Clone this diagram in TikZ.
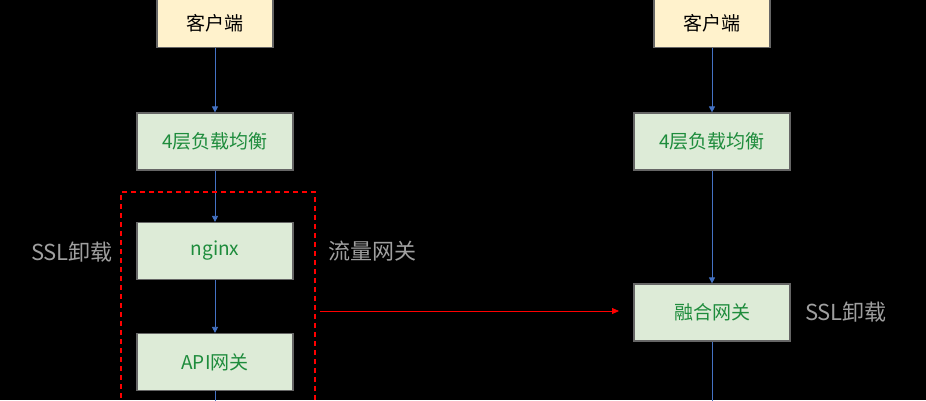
\documentclass[tikz,border=0pt]{standalone}
\usepackage{fontspec}
\setmainfont{Noto Sans CJK SC}
\usetikzlibrary{arrows.meta}
\definecolor{tgreen}{HTML}{1E8C3C}
\definecolor{gfill}{HTML}{DDEBD7}
\definecolor{yfill}{HTML}{FFF2CC}
\definecolor{ablue}{HTML}{4472C4}
\begin{document}
\begin{tikzpicture}[x=1pt,y=-1pt,
  gbox/.style={draw=gray!80!black,line width=1.2pt,fill=gfill,text=tgreen,minimum width=156pt,minimum height=57pt,font=\fontsize{19}{22}\selectfont},
  ybox/.style={draw=gray!80!black,line width=1.2pt,fill=yfill,text=black,minimum width=116pt,minimum height=49pt,font=\fontsize{19}{22}\selectfont},
  flow/.style={draw=ablue,line width=0.8pt,-{Triangle[length=6pt,width=6pt]}},
  lbl/.style={text=gray!75,font=\fontsize{22}{25}\selectfont}]
\fill[black] (0,0) rectangle (926,400);
\useasboundingbox (0,0) rectangle (926,400);
\clip (0,0) rectangle (926,400);
\node[ybox] (c1) at (215,23) {客户端};
\node[gbox] (l1) at (215,141.5) {4层负载均衡};
\node[gbox] (n1) at (215,251) {nginx};
\node[gbox] (a1) at (215,362) {API网关};
\coordinate (e1) at (215,405);
\node[ybox] (c2) at (712,23) {客户端};
\node[gbox] (l2) at (712,141.5) {4层负载均衡};
\node[gbox] (f2) at (712,312.5) {融合网关};
\coordinate (e2) at (712,405);
\coordinate (r1) at (320,311);
\coordinate (r2) at (619,311);
\draw[flow] (c1) -- (l1);
\draw[flow] (l1) -- (n1);
\draw[flow] (n1) -- (a1);
\draw[draw=ablue,line width=0.8pt] (a1) -- (e1);
\draw[flow] (c2) -- (l2);
\draw[flow] (l2) -- (f2);
\draw[draw=ablue,line width=0.8pt] (f2) -- (e2);
\node[draw=red,line width=1.3pt,dash pattern=on 5pt off 4pt,minimum width=194pt,minimum height=230pt] (grp) at (218,307) {};
\draw[red,line width=0.8pt,-{Triangle[length=7pt,width=6pt]}] (r1) -- (r2);
\node[lbl] (s1) at (72,252) {SSL卸载};
\node[lbl] (t1) at (372,251) {流量网关};
\node[lbl] (s2) at (846,312) {SSL卸载};
\end{tikzpicture}
\end{document}
